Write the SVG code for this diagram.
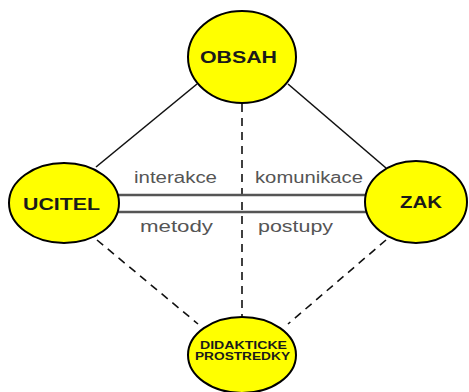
<svg xmlns="http://www.w3.org/2000/svg" width="469" height="392" viewBox="0 0 469 392">
<style>
.node{fill:#ffff00;stroke:#000;stroke-width:2}
.nt{font-family:"Liberation Sans",Arial,sans-serif;font-weight:bold;fill:#1a1a1a}
.lbl{font-family:"Liberation Sans",Arial,sans-serif;font-size:16px;fill:#555}
.solid{stroke:#111;stroke-width:1.6;fill:none}
.dash{stroke:#111;stroke-width:1.6;fill:none;stroke-dasharray:8,6}
.dbl{stroke:#555;stroke-width:2.5;fill:none}
</style>
<rect width="469" height="392" fill="#fff"/>
<g id="connectors">
<line class="solid" x1="197" y1="84" x2="96" y2="167"/>
<line class="solid" x1="288" y1="84" x2="386" y2="168"/>
<line class="dash" x1="242" y1="104" x2="242" y2="316"/>
<line class="dash" x1="97" y1="240" x2="198" y2="324"/>
<line class="dash" x1="386" y1="240" x2="288" y2="324"/>
<line class="dbl" x1="118" y1="195" x2="366" y2="195"/>
<line class="dbl" x1="118" y1="212" x2="366" y2="212"/>
<text class="lbl" x="134" y="183" textLength="83" lengthAdjust="spacingAndGlyphs">interakce</text>
<text class="lbl" x="255" y="183" textLength="108" lengthAdjust="spacingAndGlyphs">komunikace</text>
<text class="lbl" x="140" y="232" textLength="73" lengthAdjust="spacingAndGlyphs">metody</text>
<text class="lbl" x="258" y="232" textLength="75" lengthAdjust="spacingAndGlyphs">postupy</text>
</g>
<g id="obsah">
<ellipse class="node" cx="242" cy="57" rx="54" ry="46"/>
<text class="nt" x="200" y="63" font-size="16" textLength="77" lengthAdjust="spacingAndGlyphs">OBSAH</text>
</g>
<g id="ucitel">
<ellipse class="node" cx="64" cy="203" rx="55" ry="40"/>
<text class="nt" x="23" y="210" font-size="17" textLength="77" lengthAdjust="spacingAndGlyphs">UCITEL</text>
</g>
<g id="zak">
<ellipse class="node" cx="416" cy="202" rx="51" ry="41"/>
<text class="nt" x="400" y="208" font-size="16" textLength="42" lengthAdjust="spacingAndGlyphs">ZAK</text>
</g>
<g id="didakticke">
<ellipse class="node" cx="242" cy="355" rx="54" ry="38"/>
<text class="nt" x="200" y="349" font-size="10" textLength="87" lengthAdjust="spacingAndGlyphs">DIDAKTICKE</text>
<text class="nt" x="195" y="360" font-size="10" textLength="95" lengthAdjust="spacingAndGlyphs">PROSTREDKY</text>
</g>
</svg>
